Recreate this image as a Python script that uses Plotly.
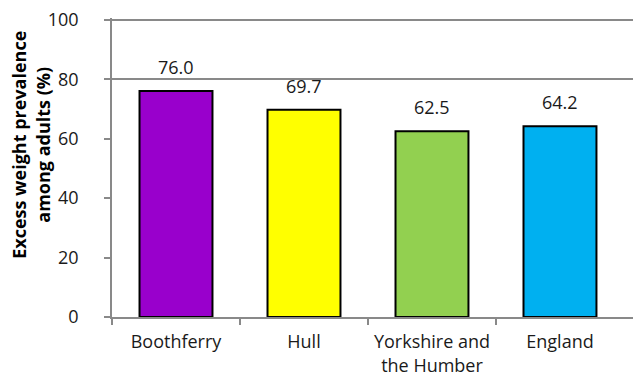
import plotly.graph_objects as go

# Data
areas = ["Boothferry", "Hull", "Yorkshire and<br>the Humber", "England"]
prevalence = [76.0, 69.7, 62.5, 64.2]
bar_colors = ["#9900CC", "#FFFF00", "#92D050", "#00B0F0"]
y_ticks = [0, 20, 40, 60, 80, 100]
grid_at = [80, 100]

axis_grey = "#898989"
font_family = "Open Sans, Liberation Sans, sans-serif"

pos = list(range(len(areas)))
# tick marks sit between categories (none after the last one in the reference)
boundaries = [p - 0.5 for p in pos]

fig = go.Figure()

fig.add_trace(go.Bar(
    x=pos,
    y=prevalence,
    marker=dict(color=bar_colors, line=dict(color="black", width=2)),
    width=0.57,
    cliponaxis=False,
))

# value labels sit a little above each bar
for p, v in zip(pos, prevalence):
    fig.add_annotation(x=p, y=v, text=f"{v:.1f}", showarrow=False,
                       yanchor="bottom", yshift=10,
                       font=dict(size=18, color="#1a1a1a"))

# y title placed by hand (it sits above the plot centre in the reference)
fig.add_annotation(xref="paper", yref="paper", x=-0.153, y=0.576,
                   text="<b>Excess weight prevalence<br>among adults (%)</b>",
                   textangle=-90, showarrow=False, xanchor="center", yanchor="middle",
                   font=dict(size=18, color="black"))

fig.update_layout(
    width=641, height=379,
    margin=dict(l=104, r=8, t=10, b=70),
    paper_bgcolor="white", plot_bgcolor="white",
    showlegend=False,
    font=dict(family=font_family, size=18, color="#1a1a1a"),
)

fig.update_xaxes(
    range=[-0.5, 3.633],
    tickvals=pos, ticktext=areas, ticks="",
    showline=True, linecolor=axis_grey, linewidth=1.5,
    tickfont=dict(size=18), ticklabelstandoff=8,
    showgrid=False, zeroline=False, automargin=False,
    minor=dict(tickvals=boundaries, ticks="outside", ticklen=6,
               tickcolor=axis_grey, tickwidth=1.5, showgrid=False),
)

# only the upper two gridlines are shown in the reference -> minor grid
fig.update_yaxes(
    range=[0, 100.6],
    tickvals=y_ticks,
    showline=True, linecolor=axis_grey, linewidth=1.5,
    ticks="outside", ticklen=6, tickcolor=axis_grey, tickwidth=1.5,
    tickfont=dict(size=18), ticklabelstandoff=22, ticklabeloverflow="allow",
    showgrid=False, zeroline=False, automargin=False,
    minor=dict(tickvals=grid_at, showgrid=True, gridcolor=axis_grey, gridwidth=1.5, ticks=""),
)

fig.write_html("out.html")
